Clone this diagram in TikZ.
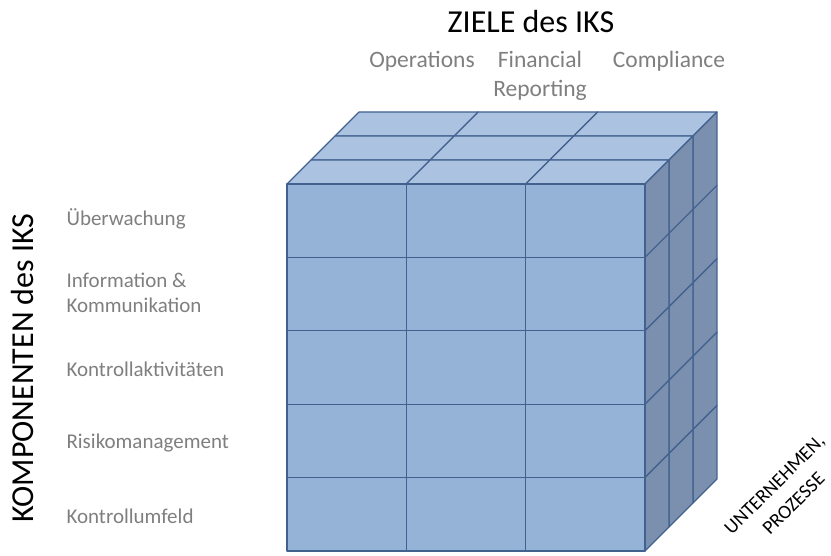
\documentclass[tikz,border=0pt]{standalone}
\usepackage{fontspec}
\setmainfont{Carlito}
\definecolor{frontfill}{HTML}{95B3D7}
\definecolor{topfill}{HTML}{ABC2E1}
\definecolor{sidefill}{HTML}{7B8FAE}
\definecolor{edge}{HTML}{41618F}
\definecolor{labelgray}{HTML}{7F7F7F}
\tikzset{
  cell/.style={draw=edge, line width=1.2pt, line join=round},
  title/.style={font=\fontsize{32}{36}\selectfont, text=black, anchor=base},
  goal/.style={font=\fontsize{23.5}{29}\selectfont, text=labelgray, align=center, anchor=base},
  comp/.style={font=\fontsize{21}{25}\selectfont, text=labelgray, anchor=base west, align=left},
}
\begin{document}
\begin{tikzpicture}[x=1pt, y=-1pt]
\useasboundingbox (0,0) rectangle (831,556);
% cube geometry: front face origin, cell width/height, depth step
\def\ox{287}\def\oy{184}
\def\cw{119.33}\def\ch{73.4}
\def\dx{24}\def\dy{24}
% top face cells (back row first)
\foreach \k in {2,1,0}{
  \foreach \i in {0,1,2}{
    \fill[topfill, cell] ({\ox+\i*\cw+\k*\dx},{\oy-\k*\dy})
      -- ({\ox+(\i+1)*\cw+\k*\dx},{\oy-\k*\dy})
      -- ({\ox+(\i+1)*\cw+(\k+1)*\dx},{\oy-(\k+1)*\dy})
      -- ({\ox+\i*\cw+(\k+1)*\dx},{\oy-(\k+1)*\dy}) -- cycle;
  }
}
% right side face cells
\foreach \k in {2,1,0}{
  \foreach \j in {0,...,4}{
    \fill[sidefill, cell] ({\ox+3*\cw+\k*\dx},{\oy+\j*\ch-\k*\dy})
      -- ({\ox+3*\cw+(\k+1)*\dx},{\oy+\j*\ch-(\k+1)*\dy})
      -- ({\ox+3*\cw+(\k+1)*\dx},{\oy+(\j+1)*\ch-(\k+1)*\dy})
      -- ({\ox+3*\cw+\k*\dx},{\oy+(\j+1)*\ch-\k*\dy}) -- cycle;
  }
}
% front face cells
\foreach \i in {0,1,2}{
  \foreach \j in {0,...,4}{
    \fill[frontfill, cell] ({\ox+\i*\cw},{\oy+\j*\ch})
      rectangle ({\ox+(\i+1)*\cw},{\oy+(\j+1)*\ch});
  }
}
% axis titles
\node[title] (ziele) at (531,33) {ZIELE des IKS};
\node[title, rotate=90] (komp) at (33,368) {KOMPONENTEN des IKS};
\node[font=\fontsize{19.5}{27}\selectfont, rotate=45, align=center] (untern) at (784,494) {UNTERNEHMEN,\\PROZESSE};
% goals (base anchor of a two-line node sits on its last line)
\node[goal] (ops) at (422,68) {Operations};
\node[goal] (fin) at (540,97) {Financial\\Reporting};
\node[goal] (compl) at (669,68) {Compliance};
% components
\node[comp] (ueb) at (63,226) {Überwachung};
\node[comp] (info) at (63,313) {Information \&\\Kommunikation};
\node[comp] (akt) at (63,377) {Kontrollaktivitäten};
\node[comp] (risk) at (63,449) {Risikomanagement};
\node[comp] (umf) at (63,523) {Kontrollumfeld};
\end{tikzpicture}
\end{document}
